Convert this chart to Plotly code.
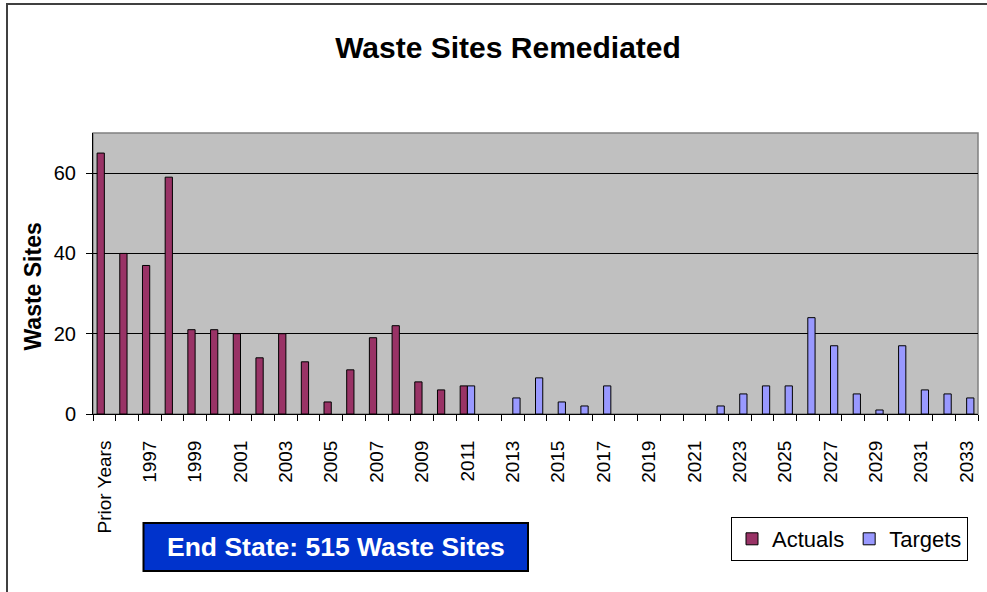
import plotly.graph_objects as go

categories = ["Prior Years", "1996", "1997", "1998", "1999", "2000", "2001", "2002",
              "2003", "2004", "2005", "2006", "2007", "2008", "2009", "2010", "2011",
              "2012", "2013", "2014", "2015", "2016", "2017", "2018", "2019", "2020",
              "2021", "2022", "2023", "2024", "2025", "2026", "2027", "2028", "2029",
              "2030", "2031", "2032", "2033"]

actuals = [65, 40, 37, 59, 21, 21, 20, 14, 20, 13, 3, 11, 19, 22, 8, 6, 7,
           None, None, None, None, None, None, None, None, None, None, None,
           None, None, None, None, None, None, None, None, None, None, None]

targets = [None, None, None, None, None, None, None, None, None, None, None,
           None, None, None, None, None, 7,
           None, 4, 9, 3, 2, 7, None, None, None, None, 2, 5, 7, 7, 24, 17,
           5, 1, 17, 6, 5, 4]

tick_text = [c if i % 2 == 0 else "" for i, c in enumerate(categories)]
y_ticks = [0, 20, 40, 60]

FONT = "Liberation Sans, Arial, sans-serif"

W, H = 987, 592
ML, MR, MT, MB = 93, 9, 133, 178
PW, PH = W - ML - MR, H - MT - MB


def px(x):
    return (x - ML) / PW


def py(y):
    return (MT + PH - y) / PH


fig = go.Figure()
fig.add_trace(go.Bar(x=categories, y=actuals, name="Actuals",
                     marker=dict(color="#993366", line=dict(color="black", width=1))))
fig.add_trace(go.Bar(x=categories, y=targets, name="Targets",
                     marker=dict(color="#9999FF", line=dict(color="black", width=1))))

fig.update_layout(
    width=W, height=H,
    margin=dict(l=ML, r=MR, t=MT, b=MB, autoexpand=False),
    paper_bgcolor="white",
    plot_bgcolor="#C0C0C0",
    barmode="group", bargap=0.36, bargroupgap=0,
    title=dict(text="<b>Waste Sites Remediated</b>", x=508 / W, xanchor="center",
               y=(H - 47) / H, yanchor="middle", yref="container",
               font=dict(family=FONT, size=30, color="black")),
    showlegend=True,
    legend=dict(orientation="h", x=px(731), y=py(517), xanchor="left", yanchor="top",
                bgcolor="white", bordercolor="black", borderwidth=1,
                font=dict(family=FONT, size=22, color="black"),
                traceorder="normal"),
    xaxis=dict(type="category", categoryorder="array", categoryarray=categories,
               tickmode="array", tickvals=categories, ticktext=tick_text,
               tickangle=-90, tickson="boundaries", ticks="outside", ticklen=6,
               tickcolor="black", showline=True, linecolor="black", linewidth=1,
               showgrid=False, ticklabelstandoff=18, automargin=False,
               tickfont=dict(family=FONT, size=19, color="black")),
    yaxis=dict(range=[0, 70], tickvals=y_ticks, ticks="outside", ticklen=6,
               tickcolor="black", showline=True, linecolor="black", linewidth=1,
               showgrid=True, gridcolor="black", gridwidth=1, zeroline=False,
               ticklabelstandoff=6, automargin=False,
               tickfont=dict(family=FONT, size=20, color="black")),
    shapes=[
        dict(type="rect", xref="paper", yref="paper", x0=0, x1=1, y0=0, y1=1,
             line=dict(color="#808080", width=1.5), layer="below"),
        dict(type="rect", xref="paper", yref="paper", x0=px(7), x1=px(1000),
             y0=py(610), y1=py(4), line=dict(color="#404040", width=2)),
        dict(type="rect", xref="paper", yref="paper", x0=px(143.5), x1=px(528),
             y0=py(571), y1=py(523), fillcolor="#0033CC",
             line=dict(color="black", width=2)),
    ],
    annotations=[
        dict(text="<b>Waste Sites</b>", xref="paper", yref="paper", x=px(32),
             y=py(286.5), xanchor="center", yanchor="middle", textangle=-90,
             showarrow=False, font=dict(family=FONT, size=23, color="black")),
        dict(text="<b>End State: 515 Waste Sites</b>", xref="paper", yref="paper",
             x=px(336), y=py(547), xanchor="center", yanchor="middle",
             showarrow=False, font=dict(family=FONT, size=26.5, color="white")),
    ],
)

fig.write_html("out.html", config={"displayModeBar": False},
               post_script="document.body.style.margin='0';document.body.style.overflow='hidden';")
